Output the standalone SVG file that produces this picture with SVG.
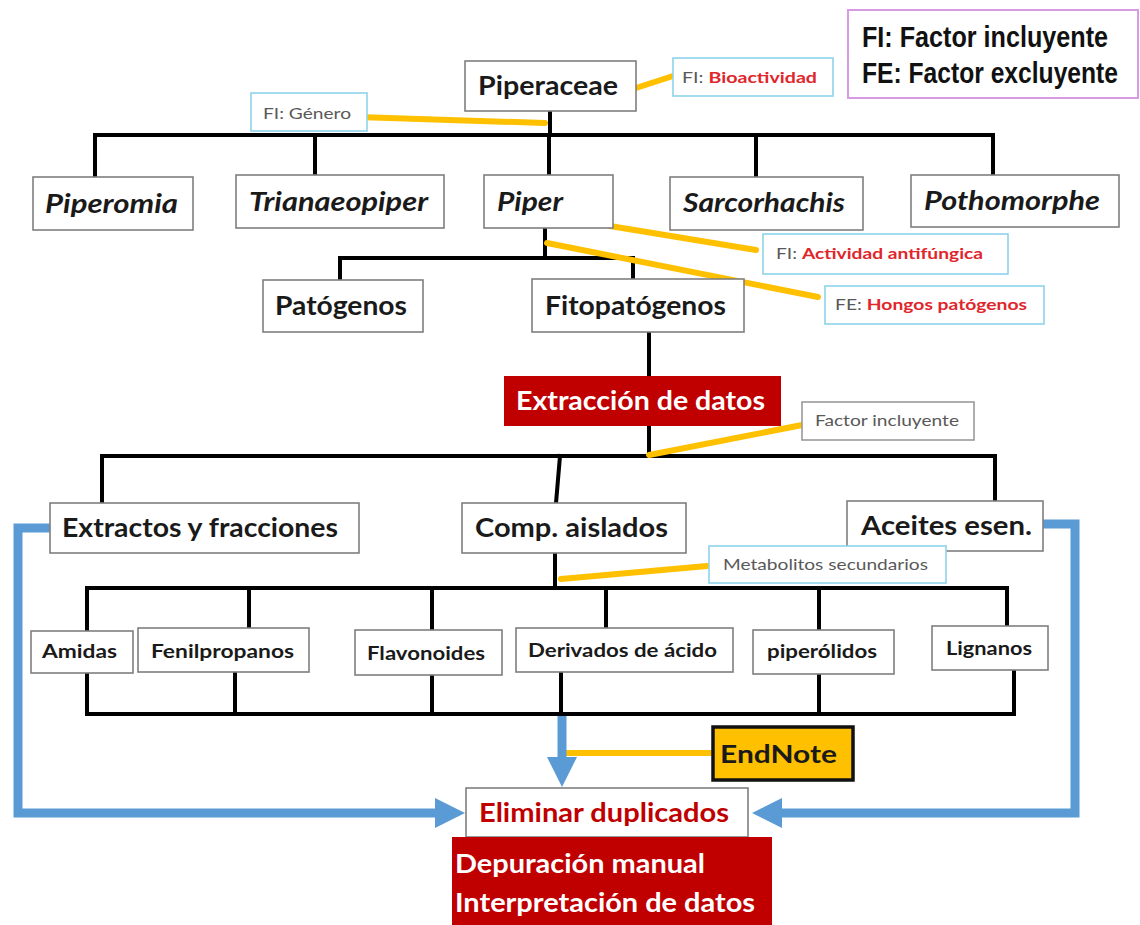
<svg xmlns="http://www.w3.org/2000/svg" width="1140" height="925" viewBox="0 0 1140 925">
<style>
.box{fill:#fff;stroke:#7f7f7f;stroke-width:1.6}
.lbl{fill:#fff;stroke:#8fd3ea;stroke-width:1.6}
.red{fill:#c00000;stroke:none}
.t{font-family:Lato,"Open Sans","Liberation Sans",sans-serif;font-weight:700;fill:#1a1a1a}
.t26{font-size:26px}
.t19{font-size:19px}
.it{font-style:italic}
.w{fill:#fff}
.s{font-family:Lato,"Open Sans","Liberation Sans",sans-serif;font-size:16px;fill:#595959;font-weight:400}
.rb{fill:#e0262b;font-weight:700}
.ln{stroke:#000;stroke-width:4;fill:none;stroke-linecap:square}
.y{stroke:#ffc000;stroke-width:6;stroke-linecap:round;fill:none}
.b{stroke:#5b9bd5;stroke-width:9;fill:none}
.leg{font-family:"Liberation Sans",Arial,sans-serif;font-weight:700;font-size:26px;fill:#111}
</style>
<defs>
<marker id="ah" markerUnits="userSpaceOnUse" markerWidth="32" markerHeight="32" refX="15" refY="15" orient="auto">
<path d="M0,0 L30,15 L0,30 z" fill="#5b9bd5"/>
</marker>
</defs>
<rect width="1140" height="925" fill="#fff"/>

<g id="connectors">
<path class="ln" d="M550,111 V135 M95,135 H993 M95,135 V177 M315,135 V175 M549,135 V175 M756,135 V177 M993,135 V175"/>
<path class="ln" d="M545,228 V258 M340,258 H633 M340,258 V280 M633,258 V279"/>
<path class="ln" d="M649,332 V376 M649,426 V456 M102,456 H995 M102,456 V503 M560,456 L556,503 M995,456 V501"/>
<path class="ln" d="M555,553 V588 M87,588 H1007 M87,588 V631 M249,588 V628 M432,588 V630 M606,588 V628 M819,588 V630 M1007,588 V626"/>
<path class="ln" d="M87,673 V714 M235,672 V714 M432,675 V714 M561,672 V714 M819,674 V714 M1014,670 V714 M87,714 H1014"/>
<path class="y" d="M358,117 L545,123"/>
<path class="y" d="M636,88 L673,76"/>
<path class="y" d="M610,226 L756,250"/>
<path class="y" d="M547,243 L818,297"/>
<path class="y" d="M649,455 L802,425"/>
<path class="y" d="M561,579 L707,566"/>
<path class="y" d="M563,753 L713,753"/>
<path class="b" d="M50,528 H18 V813 H450" marker-end="url(#ah)"/>
<path class="b" d="M1043,524 H1075 V813 H767" marker-end="url(#ah)"/>
<path class="b" d="M562,716 V772" marker-end="url(#ah)"/>
</g>

<g id="legend">
<rect x="848" y="10" width="290" height="88" fill="#fff" stroke="#d79be3" stroke-width="2"/>
<text class="leg" transform="translate(862,47) scale(1,1.15)" x="0" y="0" textLength="246" lengthAdjust="spacingAndGlyphs">FI: Factor incluyente</text>
<text class="leg" transform="translate(862,83) scale(1,1.15)" x="0" y="0" textLength="256" lengthAdjust="spacingAndGlyphs">FE: Factor excluyente</text>
</g>

<g id="piperaceae">
<rect class="box" x="465" y="61" width="171" height="50"/>
<text class="t t26" x="478" y="95" textLength="140" lengthAdjust="spacingAndGlyphs">Piperaceae</text>
</g>
<g id="fi-bioactividad">
<rect class="lbl" x="673" y="58" width="160" height="38"/>
<text class="s" x="682" y="83" textLength="135" lengthAdjust="spacingAndGlyphs">FI: <tspan class="rb">Bioactividad</tspan></text>
</g>
<g id="fi-genero">
<rect class="lbl" x="251" y="93" width="116" height="38"/>
<text class="s" x="263" y="119" textLength="88" lengthAdjust="spacingAndGlyphs">FI: Género</text>
</g>

<g id="piperomia">
<rect class="box" x="33" y="177" width="160" height="53"/>
<text class="t t26 it" x="45" y="213" textLength="133" lengthAdjust="spacingAndGlyphs">Piperomia</text>
</g>
<g id="trianaeopiper">
<rect class="box" x="236" y="175" width="208" height="53"/>
<text class="t t26 it" x="249" y="211" textLength="179" lengthAdjust="spacingAndGlyphs">Trianaeopiper</text>
</g>
<g id="piper">
<rect class="box" x="484" y="175" width="129" height="53"/>
<text class="t t26 it" x="497" y="211" textLength="66" lengthAdjust="spacingAndGlyphs">Piper</text>
</g>
<g id="sarcorhachis">
<rect class="box" x="670" y="177" width="193" height="53"/>
<text class="t t26 it" x="683" y="212" textLength="162" lengthAdjust="spacingAndGlyphs">Sarcorhachis</text>
</g>
<g id="pothomorphe">
<rect class="box" x="911" y="175" width="208" height="52"/>
<text class="t t26 it" x="924" y="210" textLength="176" lengthAdjust="spacingAndGlyphs">Pothomorphe</text>
</g>

<g id="fi-actividad">
<rect class="lbl" x="763" y="234" width="245" height="40"/>
<text class="s" x="776" y="259" textLength="207" lengthAdjust="spacingAndGlyphs">FI: <tspan class="rb">Actividad antifúngica</tspan></text>
</g>
<g id="fe-hongos">
<rect class="lbl" x="825" y="286" width="219" height="38"/>
<text class="s" x="835" y="310" textLength="192" lengthAdjust="spacingAndGlyphs">FE: <tspan class="rb">Hongos patógenos</tspan></text>
</g>

<g id="patogenos">
<rect class="box" x="263" y="280" width="160" height="52"/>
<text class="t t26" x="275" y="315" textLength="132" lengthAdjust="spacingAndGlyphs">Patógenos</text>
</g>
<g id="fitopatogenos">
<rect class="box" x="532" y="279" width="212" height="53"/>
<text class="t t26" x="545" y="315" textLength="181" lengthAdjust="spacingAndGlyphs">Fitopatógenos</text>
</g>

<g id="extraccion">
<rect class="red" x="504" y="376" width="277" height="50"/>
<text class="t t26 w" x="516" y="410" textLength="249" lengthAdjust="spacingAndGlyphs">Extracción de datos</text>
</g>
<g id="factor-incluyente">
<rect x="802" y="402" width="172" height="38" fill="#fff" stroke="#9a9a9a" stroke-width="1.6"/>
<text class="s" x="815" y="426" textLength="144" lengthAdjust="spacingAndGlyphs">Factor incluyente</text>
</g>

<g id="extractos">
<rect class="box" x="50" y="503" width="309" height="50"/>
<text class="t t26" x="62" y="537" textLength="276" lengthAdjust="spacingAndGlyphs">Extractos y fracciones</text>
</g>
<g id="comp-aislados">
<rect class="box" x="462" y="503" width="224" height="50"/>
<text class="t t26" x="475" y="537" textLength="193" lengthAdjust="spacingAndGlyphs">Comp. aislados</text>
</g>
<g id="aceites">
<rect class="box" x="847" y="501" width="196" height="50"/>
<text class="t t26" x="861" y="535" textLength="171" lengthAdjust="spacingAndGlyphs">Aceites esen.</text>
</g>
<g id="metabolitos">
<rect class="lbl" x="709" y="546" width="237" height="37"/>
<text class="s" x="723" y="570" textLength="205" lengthAdjust="spacingAndGlyphs">Metabolitos secundarios</text>
</g>

<g id="amidas">
<rect class="box" x="31" y="631" width="102" height="42"/>
<text class="t t19" x="42" y="658" textLength="75" lengthAdjust="spacingAndGlyphs">Amidas</text>
</g>
<g id="fenilpropanos">
<rect class="box" x="138" y="628" width="171" height="44"/>
<text class="t t19" x="151" y="658" textLength="143" lengthAdjust="spacingAndGlyphs">Fenilpropanos</text>
</g>
<g id="flavonoides">
<rect class="box" x="355" y="630" width="147" height="45"/>
<text class="t t19" x="367" y="660" textLength="118" lengthAdjust="spacingAndGlyphs">Flavonoides</text>
</g>
<g id="derivados">
<rect class="box" x="516" y="628" width="217" height="44"/>
<text class="t t19" x="528" y="657" textLength="189" lengthAdjust="spacingAndGlyphs">Derivados de ácido</text>
</g>
<g id="piperolidos">
<rect class="box" x="753" y="630" width="141" height="44"/>
<text class="t t19" x="767" y="658" textLength="110" lengthAdjust="spacingAndGlyphs">piperólidos</text>
</g>
<g id="lignanos">
<rect class="box" x="932" y="626" width="116" height="44"/>
<text class="t t19" x="946" y="655" textLength="86" lengthAdjust="spacingAndGlyphs">Lignanos</text>
</g>

<g id="endnote">
<rect x="713" y="727" width="140" height="53" fill="#ffc000" stroke="#111" stroke-width="3.5"/>
<text class="t" x="720" y="763" font-size="25" textLength="117" lengthAdjust="spacingAndGlyphs">EndNote</text>
</g>
<g id="eliminar">
<rect class="box" x="466" y="788" width="282" height="49"/>
<text class="t t26" x="479" y="822" style="fill:#c00000" textLength="250" lengthAdjust="spacingAndGlyphs">Eliminar duplicados</text>
</g>
<g id="depuracion">
<rect class="red" x="452" y="837" width="320" height="88"/>
<text class="t t26 w" x="455" y="873" textLength="250" lengthAdjust="spacingAndGlyphs">Depuración manual</text>
<text class="t t26 w" x="455" y="912" textLength="300" lengthAdjust="spacingAndGlyphs">Interpretación de datos</text>
</g>
</svg>
